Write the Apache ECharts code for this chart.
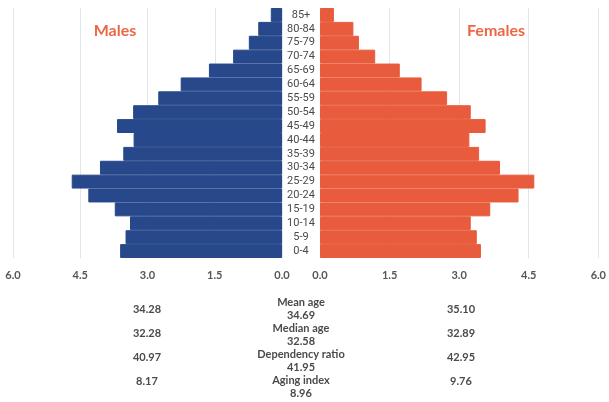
<!DOCTYPE html>
<html>
<head>
<meta charset="utf-8">
<script src="https://cdn.jsdelivr.net/npm/echarts@6/dist/echarts.min.js"></script>
<style>
  html, body { margin: 0; padding: 0; background: #ffffff; }
  #chart { width: 609px; height: 402px; }
</style>
</head>
<body>
<div id="chart"></div>
<script>
// Age groups, youngest first (category axis runs bottom to top)
const ageGroups = ['0-4', '5-9', '10-14', '15-19', '20-24', '25-29', '30-34', '35-39', '40-44',
  '45-49', '50-54', '55-59', '60-64', '65-69', '70-74', '75-79', '80-84', '85+'];

// Share of population (%) by age group
const males = [3.61, 3.49, 3.39, 3.73, 4.32, 4.69, 4.06, 3.54, 3.31,
  3.68, 3.32, 2.76, 2.26, 1.63, 1.09, 0.74, 0.53, 0.25];
const females = [3.47, 3.38, 3.25, 3.67, 4.28, 4.62, 3.88, 3.43, 3.22,
  3.57, 3.25, 2.74, 2.19, 1.72, 1.19, 0.84, 0.72, 0.30];

// Summary indicators: males, total, females
const statNames = ['Mean age', 'Median age', 'Dependency ratio', 'Aging index'];
const statMales = ['34.28', '32.28', '40.97', '8.17'];
const statTotal = ['34.69', '32.58', '41.95', '8.96'];
const statFemales = ['35.10', '32.89', '42.95', '9.76'];

const BLUE = '#27488b';
const ORANGE = '#e85b3c';
const TITLE_ORANGE = '#ec6645';
const GRID_LINE = '#e1e5f0';
const TEXT = '#4a4a4a';

const chart = echarts.init(document.getElementById('chart'), null, { renderer: 'canvas' });

const valueAxisBase = {
  type: 'value',
  min: 0,
  max: 6,
  interval: 1.5,
  axisLine: { show: false },
  axisTick: { show: false },
  splitLine: { show: true, lineStyle: { color: GRID_LINE, width: 1 } },
  axisLabel: {
    margin: 12,
    color: '#555555',
    fontFamily: 'Lato',
    fontWeight: 'bold',
    fontSize: 11,
    formatter: v => v.toFixed(1)
  }
};

// Summary text blocks below the pyramid
const graphics = [];
const centerX = 301, maleX = 147, femaleX = 461;
statNames.forEach((name, i) => {
  const nameY = 302 + i * 26;
  const sideY = 309 + i * 24.3;
  const font = { fontFamily: 'Lato', fontWeight: 'bold', fontSize: 11, fill: TEXT, textAlign: 'center', textVerticalAlign: 'middle' };
  graphics.push({ type: 'text', x: centerX, y: nameY, style: Object.assign({ text: name }, font) });
  graphics.push({ type: 'text', x: centerX, y: nameY + 13, style: Object.assign({ text: statTotal[i] }, font) });
  graphics.push({ type: 'text', x: maleX, y: sideY, style: Object.assign({ text: statMales[i] }, font) });
  graphics.push({ type: 'text', x: femaleX, y: sideY, style: Object.assign({ text: statFemales[i] }, font) });
});
graphics.push({ type: 'text', x: 115, y: 31, style: { text: 'Males', fontFamily: 'Lato', fontWeight: 'bold', fontSize: 16, fill: TITLE_ORANGE, textAlign: 'center', textVerticalAlign: 'middle' } });
graphics.push({ type: 'text', x: 496, y: 31, style: { text: 'Females', fontFamily: 'Lato', fontWeight: 'bold', fontSize: 16, fill: TITLE_ORANGE, textAlign: 'center', textVerticalAlign: 'middle' } });

chart.setOption({
  animation: false,
  backgroundColor: '#ffffff',
  grid: [
    { left: 13, right: 327, top: 8, bottom: 144 },
    { left: 320, right: 7, top: 8, bottom: 144 }
  ],
  xAxis: [
    Object.assign({}, valueAxisBase, { gridIndex: 0, inverse: true }),
    Object.assign({}, valueAxisBase, { gridIndex: 1 })
  ],
  yAxis: [
    {
      type: 'category', gridIndex: 0, data: ageGroups, position: 'right',
      axisLine: { show: false }, axisTick: { show: false }, splitLine: { show: false },
      axisLabel: { interval: 0, align: 'center', margin: 19, color: TEXT, fontFamily: 'Liberation Sans Narrow, Roboto', fontSize: 11 }
    },
    {
      type: 'category', gridIndex: 1, data: ageGroups,
      axisLine: { show: false }, axisTick: { show: false }, splitLine: { show: false },
      axisLabel: { show: false }
    }
  ],
  series: [
    {
      name: 'Males', type: 'bar', xAxisIndex: 0, yAxisIndex: 0, data: males,
      barCategoryGap: '0%', itemStyle: { color: BLUE, borderColor: BLUE, borderWidth: 1 }
    },
    {
      name: 'Females', type: 'bar', xAxisIndex: 1, yAxisIndex: 1, data: females,
      barCategoryGap: '0%', itemStyle: { color: ORANGE, borderColor: ORANGE, borderWidth: 1 }
    }
  ],
  graphic: graphics
});
</script>
</body>
</html>
